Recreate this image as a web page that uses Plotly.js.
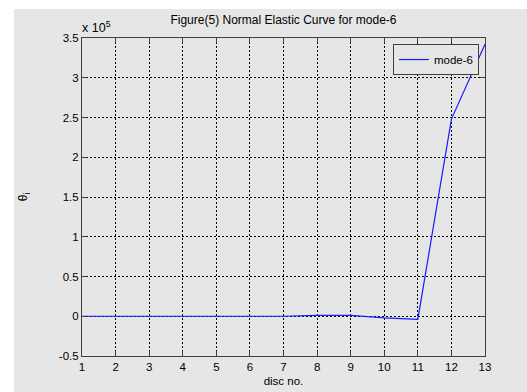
<!DOCTYPE html>
<html>
<head>
<meta charset="utf-8">
<script src="https://cdn.plot.ly/plotly-3.0.1.min.js"></script>
<style>
html,body{margin:0;padding:0;background:#ffffff;}
#chart{position:absolute;left:14px;top:9px;width:513px;height:383px;}
</style>
</head>
<body>
<div id="chart"></div>
<script>
// Data
const discNo = [1, 2, 3, 4, 5, 6, 7, 8, 9, 10, 11, 12, 13];
const theta = [0, 0, 0, 0, 0, 0, 0, 1000, 1000, -2000, -4000, 248000, 342000];
const seriesName = 'mode-6';
const yTickVals = [-50000, 0, 50000, 100000, 150000, 200000, 250000, 300000, 350000];
const yTickText = ['-0.5', '0', '0.5', '1', '1.5', '2', '2.5', '3', '3.5'];
const xTickVals = [1, 2, 3, 4, 5, 6, 7, 8, 9, 10, 11, 12, 13];

const gray = '#e6e6e6';
const axisCol = '#404040';
const font = {family: 'Liberation Sans, Arial, sans-serif', size: 11.5, color: '#000'};

const trace = {
  x: discNo, y: theta, type: 'scatter', mode: 'lines', name: seriesName,
  line: {color: '#1a1aff', width: 1.2}
};

const axisCommon = {
  showline: true, linecolor: axisCol, linewidth: 1, mirror: 'ticks',
  ticks: 'inside', ticklen: 5, tickcolor: axisCol, tickwidth: 1,
  showgrid: true, gridcolor: '#000000', gridwidth: 1, griddash: '2px,2px',
  zeroline: false, tickfont: font
};

const layout = {
  width: 513, height: 383,
  margin: {l: 68, r: 42, t: 29, b: 36},
  paper_bgcolor: gray, plot_bgcolor: gray,
  font: font,
  showlegend: true,
  title: {text: 'Figure(5) Normal Elastic Curve for mode-6', font: {family: font.family, size: 12, color: '#000'},
          x: 0.5, xref: 'paper', xanchor: 'center', y: 1 - 11/383, yref: 'container', yanchor: 'middle'},
  xaxis: Object.assign({}, axisCommon, {
    range: [1, 13], tickvals: xTickVals, ticklabelstandoff: 0,
    title: {text: 'disc no.', font: font, standoff: 5}
  }),
  yaxis: Object.assign({}, axisCommon, {
    range: [-50000, 350000], tickvals: yTickVals, ticktext: yTickText,
    title: {text: 'θ<sub>i</sub>', font: {family: font.family, size: 12, color: '#000'}, standoff: 28}
  }),
  legend: {x: 0.985, xanchor: 'right', y: 0.981, yanchor: 'top',
           bgcolor: gray, bordercolor: axisCol, borderwidth: 1, itemwidth: 30,
           font: {family: font.family, size: 11.5, color: '#000'}},
  annotations: [{
    text: 'x 10<sup>5</sup>', xref: 'paper', yref: 'paper', x: 0, y: 1,
    xanchor: 'left', yanchor: 'bottom', yshift: 1, xshift: -2, showarrow: false,
    font: {family: font.family, size: 12.5, color: '#000'}
  }]
};

Plotly.newPlot('chart', [trace], layout, {displayModeBar: false, staticPlot: true});
</script>
</body>
</html>
